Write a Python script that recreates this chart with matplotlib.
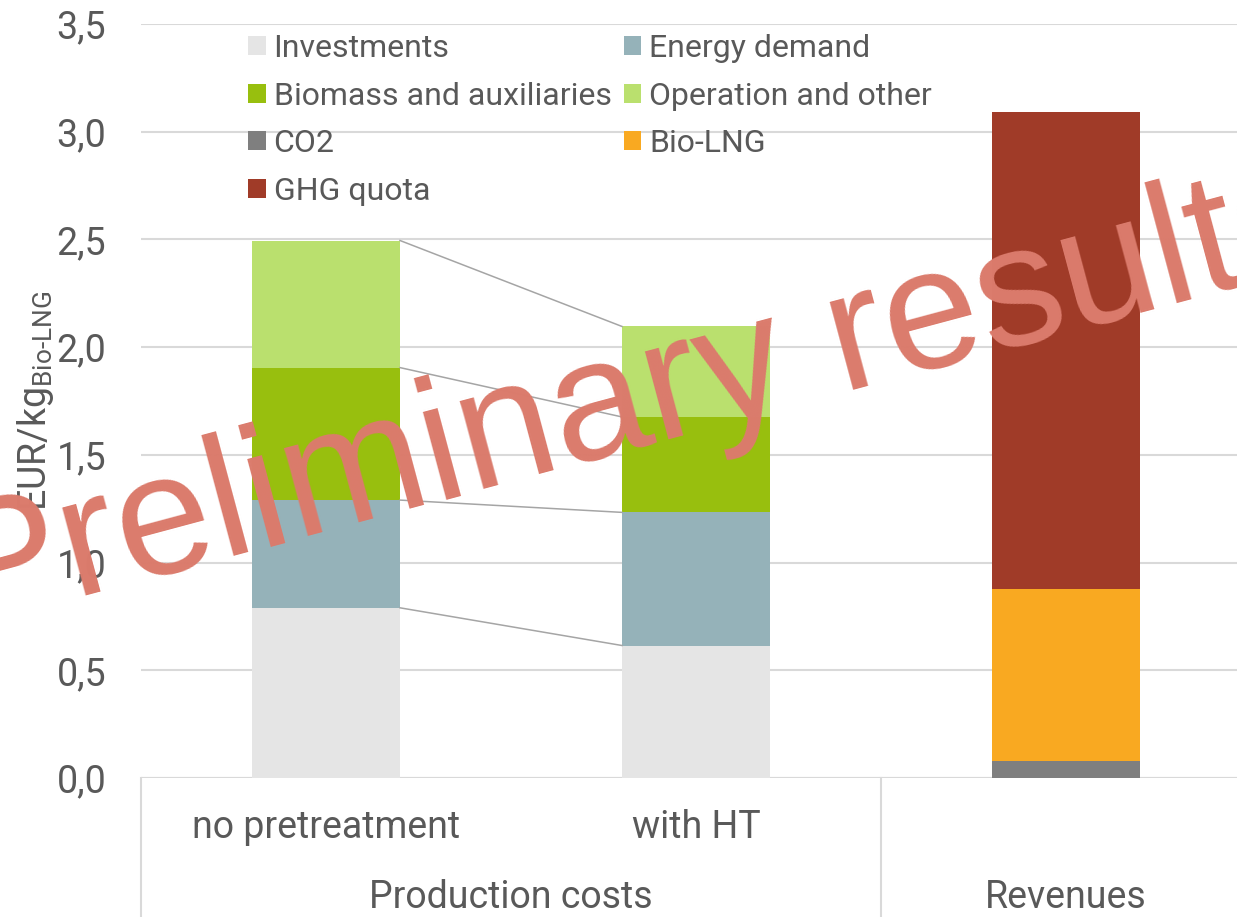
"""Stacked cost / revenue bars for Bio-LNG (EUR per kg).

"""
import numpy as np
import matplotlib
matplotlib.use("Agg")
import matplotlib.pyplot as plt
from matplotlib.ticker import FuncFormatter

plt.rcParams['font.family'] = ['Roboto', 'DejaVu Sans']
plt.rcParams['mathtext.fontset'] = 'custom'
plt.rcParams['mathtext.rm'] = 'Roboto'
plt.rcParams['mathtext.it'] = 'Roboto:italic'
plt.rcParams['mathtext.bf'] = 'Roboto:bold'

# bar positions: two cost cases + revenues
sub_labels = ['no pretreatment', 'with HT', '']
group_labels = ['Production costs', 'Revenues']
group_centers = [0.5, 2.0]

series_names = ['Investments', 'Energy demand', 'Biomass and auxiliaries',
                'Operation and other', 'CO2', 'Bio-LNG', 'GHG quota']
investments = [0.79, 0.615, 0.0]
energy_demand = [0.50, 0.618, 0.0]
biomass = [0.615, 0.443, 0.0]
operation = [0.59, 0.42, 0.0]
co2 = [0.0, 0.0, 0.077]
bio_lng = [0.0, 0.0, 0.80]
ghg_quota = [0.0, 0.0, 2.213]

colors = ['#E5E5E5', '#95B2B9', '#98BF0E', '#BAE06E',
          '#7F7F7F', '#F9A921', '#A03B28']

TXT = '#595959'
GRID = '#D9D9D9'

fig = plt.figure(figsize=(12.37, 9.17), dpi=100)
ax = fig.add_axes([141 / 1237, 139 / 917, 1096 / 1237, 754 / 917])

x = np.arange(len(sub_labels))
width = 0.4
all_series = [investments, energy_demand, biomass, operation,
              co2, bio_lng, ghg_quota]
bottom = np.zeros(len(x))
handles = []
tops = []
for name, vals, c in zip(series_names, all_series, colors):
    vals = np.array(vals)
    h = ax.bar(x, vals, width, bottom=bottom, color=c, label=name,
               zorder=2, linewidth=0)
    handles.append(h)
    bottom = bottom + vals
    tops.append(bottom.copy())

# connector lines between the two cost bars
for t in tops[:4]:
    ax.plot([x[0] + width / 2, x[1] - width / 2], [t[0], t[1]],
            color='#A5A5A5', lw=1.1, zorder=3)

ax.set_xlim(-0.5, -0.5 + 1096 / 370)
ax.set_ylim(0, 3.5)
ax.set_yticks(np.arange(0, 3.51, 0.5))
ax.yaxis.set_major_formatter(FuncFormatter(lambda v, p: f'{v:.1f}'.replace('.', ',')))
ax.yaxis.grid(True, color=GRID, lw=1.5, zorder=0)
ax.set_axisbelow(True)
for s in ax.spines.values():
    s.set_visible(False)
ax.tick_params(axis='y', length=0, pad=25, labelsize=27, labelcolor=TXT)
ax.set_xticks([])
ax.axhline(0, color=GRID, lw=1.5, zorder=1)

# multi-level category axis
trans = ax.get_xaxis_transform()
for xs in [-0.5, 1.5]:
    ax.plot([xs, xs], [0, -0.19], color=GRID, lw=1.5, transform=trans,
            clip_on=False)
for xi, lab in zip(x, sub_labels):
    ax.text(xi, -(838 - 778) / 754, lab, transform=trans, ha='center',
            va='baseline', fontsize=27, color=TXT)
for xc, lab in zip(group_centers, group_labels):
    ax.text(xc, -(908 - 778) / 754, lab, transform=trans, ha='center',
            va='baseline', fontsize=27, color=TXT)

ax.set_ylabel(r'EUR/kg$_{\text{Bio-LNG}}$', fontsize=27, color=TXT)
ax.yaxis.set_label_coords(-0.078, 0.5)

order = [0, 2, 4, 6, 1, 3, 5]
ax.legend([handles[i] for i in order], [series_names[i] for i in order],
          ncol=2, frameon=False, fontsize=23, loc='upper left',
          bbox_to_anchor=(248 / 1237, 1 - 34 / 917),
          bbox_transform=fig.transFigure, borderpad=0, borderaxespad=0,
          handlelength=0.55, handleheight=0.55, handletextpad=0.25,
          columnspacing=0.38, labelspacing=0.58, labelcolor=TXT)

fig.text(-36 / 1237, 289 / 917, 'Preliminary results', fontsize=124,
         family='Liberation Sans', color='#DB7B6C', rotation=15,
         rotation_mode='anchor', ha='left', va='baseline', zorder=10)

fig.savefig('out.png', dpi=100)
